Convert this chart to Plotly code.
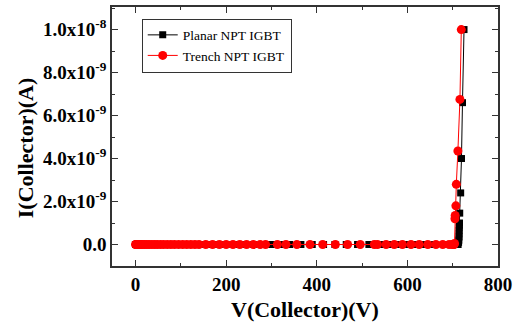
import plotly.graph_objects as go

# Planar NPT IGBT (black squares)
planar_v = [0, 3, 6, 10, 15, 20, 27, 35, 43, 52, 61, 71, 81, 92, 103, 115, 127, 140,
            155, 170, 185, 200, 220, 240, 260, 280, 300, 320, 340, 365, 390, 415, 440,
            465, 490, 515, 540, 560, 580, 600, 620, 640, 660, 680, 695, 705, 710, 712,
            713, 713.5, 714, 714, 714.2, 714.4, 714.6, 715, 715.5, 717.6, 719.4, 721.6, 725]
planar_i = [0, 0, 0, 0, 0, 0, 0, 0, 0, 0, 0, 0, 0, 0, 0, 0, 0, 0,
            0, 0, 0, 0, 0, 0, 0, 0, 0, 0, 0, 0, 0, 0, 0,
            0, 0, 0, 0, 0, 0, 0, 0, 0, 0, 0, 0, 0, 0, 0,
            0.1e-9, 0.2e-9, 0.35e-9, 0.5e-9, 0.65e-9, 0.8e-9, 0.9e-9, 1.0e-9, 1.46e-9,
            2.4e-9, 4.0e-9, 6.6e-9, 1.0e-8]

# Trench NPT IGBT (red circles)
trench_v = [0, 1, 2, 4, 6, 9, 12, 16, 20, 25, 30, 36, 42, 48, 55, 62, 70, 78, 86, 95,
            104, 113, 122, 131, 140, 155, 170, 185, 200, 215, 230, 245, 260, 275, 287,
            313, 332, 356, 385, 413, 441, 468, 496, 527, 534, 553, 571, 589, 608, 626,
            645, 663, 678, 692, 699, 702, 703, 704, 705, 705.5, 707, 708, 711.5, 716, 719]
trench_i = [0, 0, 0, 0, 0, 0, 0, 0, 0, 0, 0, 0, 0, 0, 0, 0, 0, 0, 0, 0,
            0, 0, 0, 0, 0, 0, 0, 0, 0, 0, 0, 0, 0, 0, 0,
            0, 0, 0, 0, 0, 0, 0, 0, 0, 0, 0, 0, 0, 0, 0,
            0, 0, 0, 0, 0, 0, 0, 0.05e-9, 1.2e-9, 1.35e-9, 1.8e-9, 2.8e-9, 4.35e-9,
            6.75e-9, 1.0e-8]

x_ticks = [0, 200, 400, 600, 800]
y_ticks = [0, 2e-9, 4e-9, 6e-9, 8e-9, 1e-8]
y_ticktext = ["<b>0.0</b>", "<b>2.0x10<sup>-9</sup></b>", "<b>4.0x10<sup>-9</sup></b>",
              "<b>6.0x10<sup>-9</sup></b>", "<b>8.0x10<sup>-9</sup></b>",
              "<b>1.0x10<sup>-8</sup></b>"]
x_ticktext = ["<b>0</b>", "<b>200</b>", "<b>400</b>", "<b>600</b>", "<b>800</b>"]

FONT = "Liberation Serif"

fig = go.Figure()
fig.add_trace(go.Scatter(x=planar_v, y=planar_i, mode="lines+markers", name="Planar NPT IGBT",
                         line=dict(color="black", width=1),
                         marker=dict(symbol="square", size=7, color="black")))
fig.add_trace(go.Scatter(x=trench_v, y=trench_i, mode="lines+markers", name="Trench NPT IGBT",
                         line=dict(color="red", width=1),
                         marker=dict(symbol="circle", size=9, color="red")))

axis_common = dict(showline=True, linecolor="#333", linewidth=1.5, mirror="ticks",
                   ticks="inside", ticklen=6, tickwidth=1, tickcolor="#333",
                   showgrid=False, zeroline=False,
                   tickfont=dict(family=FONT, size=19, color="black"))

fig.update_xaxes(range=[-52, 800], tickvals=x_ticks, ticktext=x_ticktext,
                 minor=dict(ticks="inside", ticklen=3, dtick=100, tickcolor="#333"),
                 **axis_common)
fig.update_yaxes(range=[-1e-9, 1.105e-8], tickvals=y_ticks, ticktext=y_ticktext,
                 minor=dict(ticks="inside", ticklen=3, dtick=1e-9, tickcolor="#333"),
                 **axis_common)

fig.add_annotation(text="<b>V(Collector)(V)</b>", xref="paper", yref="paper", x=0.5, y=-0.169,
                   xanchor="center", yanchor="middle", showarrow=False,
                   font=dict(family=FONT, size=22, color="black"))
fig.add_annotation(text="<b>I(Collector)(A)</b>", xref="paper", yref="paper", x=-0.222, y=0.456,
                   xanchor="center", yanchor="middle", showarrow=False, textangle=-90,
                   font=dict(family=FONT, size=22, color="black"))

fig.update_layout(
    width=517, height=323,
    margin=dict(l=112, r=18, t=5, b=57),
    paper_bgcolor="white", plot_bgcolor="white",
    showlegend=True,
    legend=dict(x=0.077, y=0.851, xanchor="left", yanchor="middle",
                bordercolor="#333", borderwidth=1, bgcolor="white",
                font=dict(family=FONT, size=13.5, color="black"),
                itemwidth=30, tracegroupgap=0),
)

fig.write_html("out.html")
